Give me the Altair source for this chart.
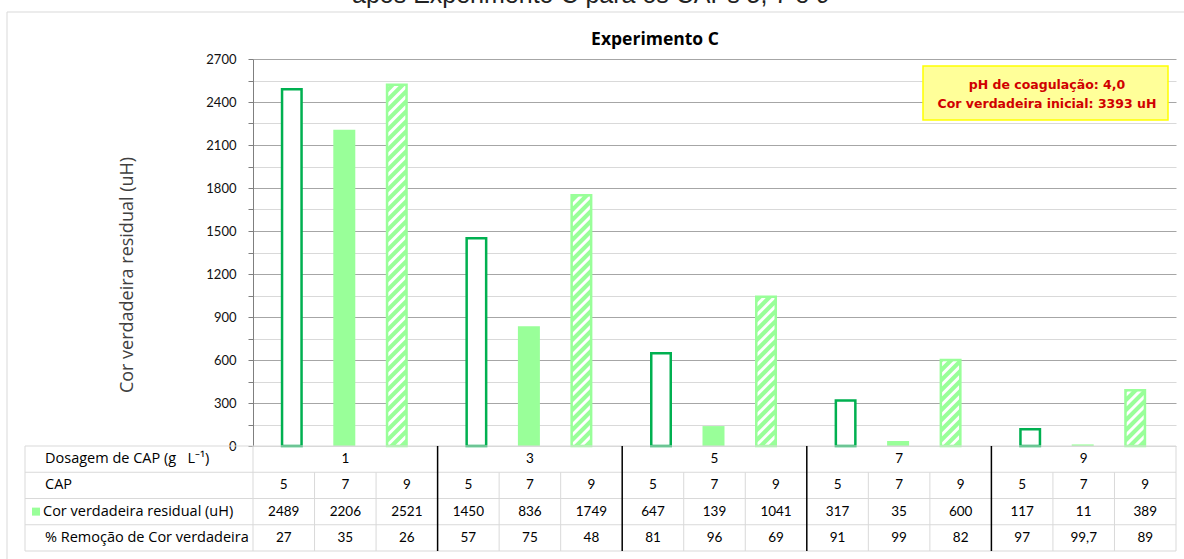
import altair as alt
import pandas as pd

# ---- data -------------------------------------------------------------
doses = ["1", "3", "5", "7", "9"]
caps = ["5", "7", "9"]
cor_residual = [
    [2489, 2206, 2521],
    [1450, 836, 1749],
    [647, 139, 1041],
    [317, 35, 600],
    [117, 11, 389],
]
remocao = [
    ["27", "35", "26"],
    ["57", "75", "48"],
    ["81", "96", "69"],
    ["91", "99", "82"],
    ["97", "99,7", "89"],
]
row_labels = [
    "Dosagem de CAP (g\u00a0\u00a0\u00a0L\u207b\u00b9)",
    "CAP",
    "Cor verdadeira residual (uH)",
    "% Remo\u00e7\u00e3o de Cor verdadeira",
]
y_label = "Cor verdadeira residual (uH)"
chart_title = "Experimento C"
top_caption = "ap\u00f3s Experimento C para os CAPs 5, 7 e 9"
note_lines = ["pH de coagula\u00e7\u00e3o: 4,0", "Cor verdadeira inicial: 3393 uH"]

# ---- layout -----------------------------------------------------------
W, H = 923, 387
YMAX = 2700
NCOL = 15
px_x = W / NCOL
px_y = H / YMAX

DARK_GREEN = "#00B050"
LIGHT_GREEN = "#99FF99"
GRID_MINOR = "#D9D9D9"
GRID_MAJOR = "#A6A6A6"
FONT = "Lato"
LABEL_FONT = "Open Sans"

xs = alt.Scale(domain=[0, NCOL], nice=False, zero=False)
ys = alt.Scale(domain=[0, YMAX], nice=False)
yaxis = alt.Axis(
    values=list(range(0, YMAX + 1, 150)),
    format="d",
    labelExpr="datum.value % 300 === 0 ? datum.label : ''",
    title=None,
    tickSize=5,
    labelPadding=12,
    labelFont=FONT,
    labelFontSize=13,
    labelColor="#111111",
    domainColor="#7F7F7F",
    tickColor="#7F7F7F",
    grid=True,
    gridColor={
        "condition": {"test": "datum.value % 300 === 0 && datum.value > 0", "value": GRID_MAJOR},
        "value": GRID_MINOR,
    },
)

# bar geometry: three bars per dose group, centred around the group middle
offsets_px = [-52.5, 0.0, 52.5]
shift_px = -1.0
rows = []
for g, d in enumerate(doses):
    for k, c in enumerate(caps):
        centre = 3 * g + 1.5 + (offsets_px[k] + shift_px) / px_x
        half = (11.0 if k == 1 else 9.75) / px_x
        rows.append(dict(
            dose=d, cap=c, value=cor_residual[g][k], rem=remocao[g][k],
            col=3 * g + k + 0.5, left=centre - half, right=centre + half,
        ))
bars = pd.DataFrame(rows)
bars["zero"] = 0


def xq(field, **kw):
    return alt.X(field, type="quantitative", scale=xs, axis=None, **kw)


def yq(field, **kw):
    return alt.Y(field, type="quantitative", scale=ys, axis=yaxis, **kw)


cap5 = alt.Chart(bars[bars.cap == "5"]).mark_rect(
    fill="white", stroke=DARK_GREEN, strokeWidth=2.5
).encode(x=xq("left"), x2="right", y=yq("value"), y2="zero")

cap7 = alt.Chart(bars[bars.cap == "7"]).mark_rect(
    fill=LIGHT_GREEN, strokeWidth=0
).encode(x=xq("left"), x2="right", y=yq("value"), y2="zero")

cap9 = bars[bars.cap == "9"]
cap9_fill = alt.Chart(cap9).mark_rect(fill=LIGHT_GREEN, strokeWidth=0).encode(
    x=xq("left"), x2="right", y=yq("value"), y2="zero"
)

# diagonal hatching ("/") clipped to each CAP 9 bar
period = 10.0
hatch = []
for _, r in cap9.iterrows():
    bw = (r.right - r.left) * px_x
    hp = r.value * px_y
    c = -bw
    while c < hp:
        x0 = max(0.0, -c)
        x1 = min(bw, hp - c)
        if x1 > x0:
            hatch.append(dict(
                xa=r.left + x0 / px_x, xb=r.left + x1 / px_x,
                ya=(x0 + c) / px_y, yb=(x1 + c) / px_y,
            ))
        c += period
hatch = pd.DataFrame(hatch)
hatch_layer = alt.Chart(hatch).mark_rule(color="white", strokeWidth=3, strokeCap="butt").encode(
    x=xq("xa"), x2="xb", y=yq("ya"), y2="yb"
)
cap9_outline = alt.Chart(cap9).mark_rect(
    fill=None, filled=False, stroke=LIGHT_GREEN, strokeWidth=2.5
).encode(x=xq("left"), x2="right", y=yq("value"), y2="zero")

# ---- data table under the plot ----------------------------------------
TBL_LEFT = -228
row_edges = [H, H + 26.25, H + 52.5, H + 78.75, H + 105]
row_mid = [(a + b) / 2 for a, b in zip(row_edges[:-1], row_edges[1:])]
one = pd.DataFrame({"a": [0]})
table_layers = []
for ye in row_edges:
    table_layers.append(
        alt.Chart(one).mark_rule(color=GRID_MINOR, strokeWidth=1).encode(
            x=alt.value(TBL_LEFT), x2=alt.value(W), y=alt.value(ye)
        )
    )
table_layers.append(
    alt.Chart(one).mark_rule(color=GRID_MINOR, strokeWidth=1).encode(
        x=alt.value(TBL_LEFT), y=alt.value(row_edges[0]), y2=alt.value(row_edges[-1])
    )
)
sub_div = pd.DataFrame({"xv": [i for i in range(1, NCOL) if i % 3 != 0]})
table_layers.append(
    alt.Chart(sub_div).mark_rule(color=GRID_MINOR, strokeWidth=1).encode(
        x=xq("xv"), y=alt.value(row_edges[1]), y2=alt.value(row_edges[-1])
    )
)
outer_div = pd.DataFrame({"xv": [0, NCOL]})
table_layers.append(
    alt.Chart(outer_div).mark_rule(color=GRID_MINOR, strokeWidth=1).encode(
        x=xq("xv"), y=alt.value(row_edges[0]), y2=alt.value(row_edges[-1])
    )
)
group_div = pd.DataFrame({"xv": [3, 6, 9, 12]})
table_layers.append(
    alt.Chart(group_div).mark_rule(color="black", strokeWidth=1.5).encode(
        x=xq("xv"), y=alt.value(row_edges[0]), y2=alt.value(row_edges[-1])
    )
)

num_txt = dict(font=FONT, fontSize=13.5, color="black", baseline="middle")
dose_df = pd.DataFrame({"dose": doses, "xc": [3 * g + 1.5 for g in range(len(doses))]})
table_layers.append(
    alt.Chart(dose_df).mark_text(align="center", **num_txt).encode(
        x=xq("xc"), y=alt.value(row_mid[0]), text="dose:N"
    )
)
for i, field in enumerate(["cap", "value", "rem"]):
    table_layers.append(
        alt.Chart(bars).mark_text(align="center", **num_txt).encode(
            x=xq("col"), y=alt.value(row_mid[i + 1]), text=f"{field}:N"
        )
    )
for i, lab in enumerate(row_labels):
    lx = -210 if i == 2 else -208
    table_layers.append(
        alt.Chart(pd.DataFrame({"t": [lab]})).mark_text(
            align="left", font=LABEL_FONT, fontSize=14.5, color="black", baseline="middle"
        ).encode(x=alt.value(lx), y=alt.value(row_mid[i]), text="t:N")
    )
legend_sq = alt.Chart(one).mark_rect(fill=LIGHT_GREEN).encode(
    x=alt.value(-221), x2=alt.value(-213),
    y=alt.value(row_mid[2] - 4), y2=alt.value(row_mid[2] + 4),
)

# ---- annotations ------------------------------------------------------
frame = alt.Chart(one).mark_rect(
    fill=None, filled=False, stroke=GRID_MINOR, strokeWidth=1
).encode(x=alt.value(-246), x2=alt.value(W + 40), y=alt.value(-47), y2=alt.value(H + 140))

note_box = alt.Chart(one).mark_rect(
    fill="#FFFF99", stroke="#FFFF00", strokeWidth=1.5
).encode(x=alt.value(670), x2=alt.value(915), y=alt.value(7), y2=alt.value(61))
note_text = [
    alt.Chart(pd.DataFrame({"t": [t]})).mark_text(
        font="DejaVu Sans", fontSize=12.5, fontWeight="bold", color="#D00000",
        align="center", baseline="middle",
    ).encode(x=alt.value(794), y=alt.value(26 + 19 * i), text="t:N")
    for i, t in enumerate(note_lines)
]
title = alt.Chart(pd.DataFrame({"t": [chart_title]})).mark_text(
    font=LABEL_FONT, fontSize=17.5, fontWeight="bold", color="black", align="center", baseline="middle"
).encode(x=alt.value(402), y=alt.value(-19), text="t:N")
caption = alt.Chart(pd.DataFrame({"t": [top_caption]})).mark_text(
    font="Liberation Sans", fontSize=25, color="#222222", align="center", baseline="alphabetic"
).encode(x=alt.value(338), y=alt.value(-56), text="t:N")
ytitle = alt.Chart(pd.DataFrame({"t": [y_label]})).mark_text(
    font=LABEL_FONT, fontSize=18, color="#404040", align="center", baseline="middle", angle=270
).encode(x=alt.value(-125), y=alt.value(216), text="t:N")

chart = alt.layer(
    frame, cap5, cap7, cap9_fill, hatch_layer, cap9_outline,
    *table_layers, legend_sq, note_box, *note_text, title, caption, ytitle,
).properties(
    width=W, height=H,
    autosize=alt.AutoSizeParams(type="none"),
    padding={"left": 253, "top": 59, "right": 8, "bottom": 113},
    background="white",
).configure_view(stroke=None)

chart.save("out.html", embed_options={"renderer": "svg", "actions": False})
